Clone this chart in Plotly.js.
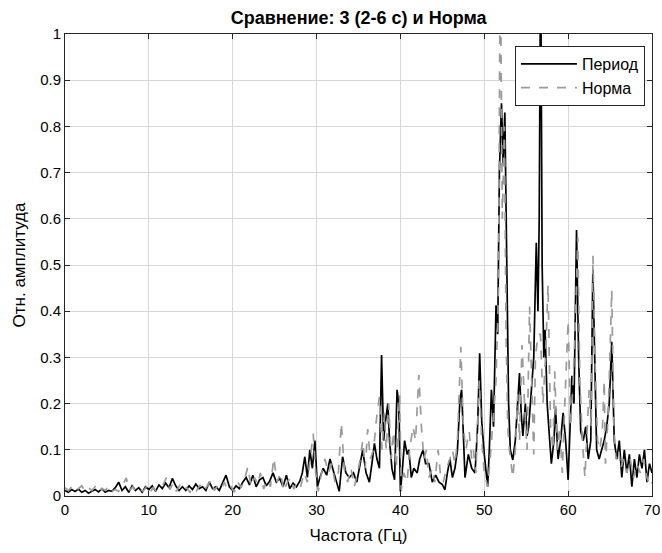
<!DOCTYPE html>
<html>
<head>
<meta charset="utf-8">
<script src="https://cdn.plot.ly/plotly-3.0.1.min.js"></script>
<style>html,body{margin:0;padding:0;background:#fff;}#chart{width:662px;height:553px;}</style>
</head>
<body>
<div id="chart"></div>
<script>
// Период (solid black)
var periodFreq = [0,0.4,0.8,1.2,1.6,2.0,2.4,2.8,3.2,3.6,4.0,4.4,4.8,5.2,5.6,6.0,6.4,6.8,7.2,7.6,8.0,8.4,8.8,9.2,9.6,10.0,10.4,10.8,11.2,11.6,12.0,12.4,12.8,13.2,13.6,14.0,14.4,14.8,15.2,15.6,16.0,16.4,16.8,17.2,17.6,18.0,18.4,18.8,19.2,19.6,20.0,20.4,20.8,21.2,21.6,22.0,22.4,22.8,23.2,23.6,24.0,24.4,24.8,25.2,25.6,26.0,26.4,26.8,27.2,27.6,28.0,28.3,28.6,28.9,29.2,29.5,29.8,30.1,30.4,30.8,31.2,31.6,31.9,32.2,32.5,32.7,33.1,33.5,33.9,34.4,34.8,35.1,35.5,35.9,36.3,36.6,36.9,37.2,37.5,37.75,38.0,38.2,38.5,38.7,39.0,39.3,39.6,39.8,40.0,40.2,40.5,40.8,41.0,41.3,41.6,42.0,42.3,42.7,43.0,43.4,43.8,44.2,44.6,45.0,45.3,45.6,45.9,46.2,46.5,46.8,47.1,47.3,47.5,47.7,48.1,48.5,48.9,49.2,49.45,49.7,50.0,50.2,50.4,50.6,50.85,51.1,51.4,51.6,51.8,52.05,52.25,52.45,52.7,52.9,53.1,53.4,53.7,54.0,54.2,54.4,54.6,54.9,55.1,55.3,55.6,55.9,56.2,56.4,56.55,56.72,56.9,57.1,57.25,57.5,57.8,58.0,58.3,58.5,58.8,59.1,59.4,59.7,60.0,60.2,60.45,60.7,61.0,61.25,61.5,61.8,62.1,62.4,62.7,62.95,63.2,63.4,63.7,64.0,64.3,64.6,64.9,65.2,65.5,65.8,66.1,66.4,66.7,67.0,67.3,67.6,67.9,68.2,68.5,68.8,69.1,69.4,69.7,70];
var periodAmp = [0.012,0.008,0.014,0.01,0.015,0.008,0.012,0.006,0.01,0.014,0.009,0.016,0.008,0.012,0.01,0.018,0.03,0.012,0.02,0.008,0.022,0.012,0.018,0.008,0.02,0.014,0.022,0.01,0.024,0.016,0.028,0.018,0.038,0.022,0.012,0.02,0.012,0.022,0.014,0.026,0.016,0.02,0.012,0.03,0.016,0.02,0.012,0.03,0.045,0.02,0.012,0.022,0.016,0.03,0.04,0.024,0.045,0.02,0.035,0.04,0.022,0.032,0.05,0.03,0.038,0.02,0.045,0.016,0.028,0.02,0.032,0.05,0.085,0.04,0.1,0.06,0.12,0.02,0.04,0.06,0.045,0.08,0.06,0.04,0.02,0.01,0.085,0.05,0.04,0.05,0.03,0.06,0.1,0.05,0.03,0.07,0.114,0.08,0.06,0.305,0.12,0.16,0.2,0.12,0.058,0.035,0.23,0.2,0.01,0.05,0.12,0.09,0.1,0.04,0.06,0.05,0.08,0.1,0.07,0.07,0.03,0.045,0.03,0.025,0.013,0.05,0.08,0.04,0.06,0.1,0.21,0.23,0.12,0.04,0.09,0.06,0.05,0.15,0.309,0.16,0.09,0.05,0.02,0.1,0.23,0.15,0.413,0.35,0.7,0.85,0.72,0.83,0.45,0.2,0.1,0.078,0.12,0.2,0.266,0.18,0.13,0.2,0.13,0.15,0.22,0.3,0.548,0.4,0.6,1.2,0.5,0.3,0.36,0.2,0.12,0.07,0.12,0.19,0.08,0.12,0.18,0.12,0.035,0.15,0.26,0.2,0.576,0.3,0.14,0.12,0.15,0.08,0.12,0.49,0.25,0.1,0.08,0.1,0.12,0.15,0.2,0.334,0.12,0.08,0.12,0.04,0.1,0.05,0.09,0.02,0.08,0.04,0.09,0.06,0.1,0.03,0.07,0.05];

// Норма (dashed gray)
var normFreq = [0,0.4,0.8,1.2,1.6,2.0,2.4,2.8,3.2,3.6,4.0,4.4,4.8,5.2,5.6,6.0,6.4,6.8,7.3,7.7,8.1,8.5,8.9,9.3,9.7,10.1,10.5,10.9,11.3,11.7,12.1,12.5,12.9,13.3,13.7,14.1,14.5,14.9,15.3,15.7,16.1,16.5,16.9,17.4,17.8,18.2,18.6,19.0,19.4,19.8,20.2,20.6,21.0,21.4,21.8,22.2,22.6,23.0,23.3,23.7,24.1,24.5,24.9,25.3,25.7,26.1,26.5,26.9,27.3,27.7,28.1,28.5,28.9,29.2,29.6,29.9,30.2,30.6,31.0,31.4,31.8,32.2,32.6,32.95,33.3,33.7,34.1,34.5,34.9,35.2,35.5,35.8,36.1,36.4,36.8,37.1,37.5,37.8,38.1,38.3,38.6,38.9,39.2,39.5,39.9,40.1,40.4,40.8,41.1,41.5,41.8,42.2,42.5,42.8,43.1,43.4,43.8,44.1,44.5,44.8,45.1,45.5,45.9,46.2,46.5,46.8,47.2,47.5,47.8,48.2,48.5,48.7,49.0,49.4,49.7,50.0,50.4,50.7,51.0,51.4,51.7,51.9,52.15,52.4,52.6,52.8,53.0,53.4,53.7,54.0,54.2,54.5,54.8,55.1,55.4,55.7,55.9,56.1,56.4,56.7,57.0,57.3,57.6,57.9,58.2,58.4,58.7,59.0,59.3,59.6,60.0,60.3,60.6,60.9,61.15,61.4,61.7,62.0,62.25,62.5,62.75,62.96,63.2,63.5,63.8,64.1,64.3,64.45,64.7,64.9,65.2,65.45,65.7,66.0,66.3,66.6,67.0,67.4,67.8,68.2,68.6,69.0,69.4,69.8,70];
var normAmp = [0.018,0.012,0.02,0.01,0.016,0.022,0.01,0.018,0.012,0.02,0.008,0.016,0.012,0.022,0.01,0.014,0.01,0.02,0.039,0.012,0.02,0.008,0.016,0.01,0.02,0.006,0.018,0.01,0.016,0.024,0.04,0.014,0.028,0.01,0.024,0.012,0.018,0.008,0.02,0.012,0.024,0.01,0.02,0.035,0.012,0.022,0.014,0.03,0.012,0.02,0.008,0.03,0.018,0.035,0.063,0.02,0.04,0.025,0.05,0.015,0.035,0.02,0.082,0.03,0.05,0.01,0.03,0.04,0.015,0.03,0.02,0.05,0.03,0.07,0.135,0.05,0.01,0.05,0.08,0.05,0.07,0.03,0.05,0.158,0.06,0.03,0.06,0.02,0.05,0.08,0.12,0.06,0.145,0.08,0.1,0.16,0.215,0.1,0.18,0.1,0.2,0.08,0.14,0.06,0.22,0.013,0.05,0.03,0.1,0.15,0.12,0.262,0.15,0.08,0.1,0.04,0.06,0.03,0.1,0.04,0.03,0.06,0.08,0.1,0.07,0.12,0.323,0.15,0.1,0.14,0.08,0.1,0.05,0.25,0.12,0.05,0.02,0.08,0.15,0.25,0.45,1.2,0.6,0.8,0.35,0.15,0.1,0.04,0.1,0.22,0.12,0.327,0.2,0.1,0.41,0.2,0.09,0.3,0.35,0.35,0.2,0.3,0.457,0.15,0.1,0.27,0.1,0.15,0.05,0.2,0.38,0.15,0.25,0.4,0.56,0.25,0.12,0.04,0.15,0.23,0.15,0.52,0.3,0.12,0.1,0.15,0.25,0.07,0.15,0.25,0.446,0.15,0.08,0.1,0.06,0.08,0.05,0.08,0.04,0.07,0.05,0.08,0.04,0.02,0.03];

var xTicks = [0,10,20,30,40,50,60,70];
var yTicks = [0,0.1,0.2,0.3,0.4,0.5,0.6,0.7,0.8,0.9,1];
var yTickText = ['0','0.1','0.2','0.3','0.4','0.5','0.6','0.7','0.8','0.9','1'];

var traces = [
  {x: periodFreq, y: periodAmp, type: 'scatter', mode: 'lines', name: 'Период',
   line: {color: '#000000', width: 1.7}},
  {x: normFreq, y: normAmp, type: 'scatter', mode: 'lines', name: 'Норма',
   line: {color: '#9a9a9a', width: 1.7, dash: 'dash'}}
];

var fontFam = 'Liberation Sans, Arial, sans-serif';
var layout = {
  width: 662, height: 553,
  margin: {l: 65, r: 10, t: 34, b: 57},
  paper_bgcolor: '#ffffff', plot_bgcolor: '#ffffff',
  font: {family: fontFam, size: 15, color: '#000'},
  title: {text: '<b>Сравнение: 3 (2-6 с) и Норма</b>', x: 0.5417, xanchor: 'center', y: 0.968, yanchor: 'middle',
          font: {family: fontFam, size: 18, color: '#000'}},
  xaxis: {range: [0, 70], tickvals: xTicks, ticktext: xTicks.map(String), showgrid: true, gridcolor: '#d6d6d6', gridwidth: 1,
          zeroline: false, showline: true, linecolor: '#262626', linewidth: 1, mirror: 'ticks', ticks: 'inside', ticklen: 5,
          tickcolor: '#262626', tickfont: {family: fontFam, size: 15, color: '#000'},
          title: {text: 'Частота (Гц)', font: {family: fontFam, size: 17, color: '#000'}, standoff: 12}},
  yaxis: {range: [0, 1], tickvals: yTicks, ticktext: yTickText, showgrid: true, gridcolor: '#d6d6d6', gridwidth: 1,
          zeroline: false, showline: true, linecolor: '#262626', linewidth: 1, mirror: 'ticks', ticks: 'inside', ticklen: 5,
          tickcolor: '#262626', tickfont: {family: fontFam, size: 15, color: '#000'},
          title: {text: 'Отн. амплитуда', font: {family: fontFam, size: 17, color: '#000'}, standoff: 10}},
  legend: {x: 0.988, xanchor: 'right', y: 0.974, yanchor: 'top', bgcolor: '#ffffff', bordercolor: '#262626', borderwidth: 1,
           font: {family: fontFam, size: 16, color: '#000'}, tracegroupgap: 0, itemwidth: 56},
  showlegend: true
};

Plotly.newPlot('chart', traces, layout, {displayModeBar: false, staticPlot: true});
</script>
</body>
</html>
